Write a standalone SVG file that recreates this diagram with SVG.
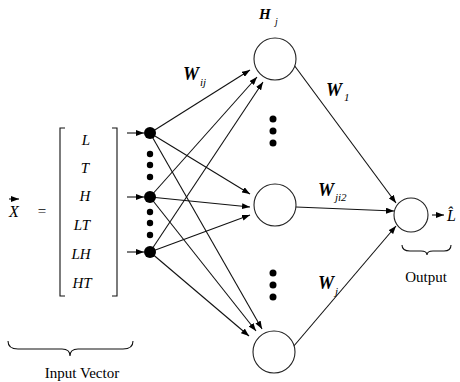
<svg xmlns="http://www.w3.org/2000/svg" width="460" height="382" viewBox="0 0 460 382">
<style>
.ln{stroke:#111;stroke-width:1.1;fill:none}
.cir{stroke:#222;stroke-width:1.1;fill:#fff}
.dot{fill:#000}
.it{font-family:"Liberation Serif","Times New Roman",serif;font-style:italic;fill:#000}
.bi{font-family:"Liberation Serif","Times New Roman",serif;font-style:italic;font-weight:bold;fill:#000}
.rm{font-family:"Liberation Serif","Times New Roman",serif;fill:#000}
</style>
<defs>
<marker id="ah" markerUnits="userSpaceOnUse" markerWidth="8" markerHeight="6" refX="8" refY="3" orient="auto">
<path d="M0,0 L8,3 L0,6 Z" fill="#000"/>
</marker>
</defs>
<g id="input-vector">
<text class="it" x="14" y="217" font-size="16" text-anchor="middle">X</text>
<path class="ln" d="M9,199 H19" marker-end="url(#ah)"/>
<text class="rm" x="42" y="216" font-size="15" text-anchor="middle">=</text>
<path class="ln" d="M65,128 H60 V296 H65"/>
<path class="ln" d="M112,128 H117 V296 H112"/>
<text class="it" x="86" y="145" font-size="15" text-anchor="middle">L</text>
<text class="it" x="85" y="173" font-size="15" text-anchor="middle">T</text>
<text class="it" x="85" y="201" font-size="15" text-anchor="middle">H</text>
<text class="it" x="82" y="230" font-size="15" text-anchor="middle">LT</text>
<text class="it" x="81" y="259" font-size="15" text-anchor="middle">LH</text>
<text class="it" x="82" y="288" font-size="15" text-anchor="middle">HT</text>
<path class="ln" d="M8,341 Q8,349 18,349 H62 Q70,349 70,356 Q70,349 78,349 H123 Q133,349 133,341"/>
<text class="rm" x="82" y="378" font-size="15" text-anchor="middle">Input Vector</text>
</g>
<g id="connectors">
<path class="ln" d="M127,133 H144" marker-end="url(#ah)"/>
<path class="ln" d="M127,197 H144" marker-end="url(#ah)"/>
<path class="ln" d="M127,252 H144" marker-end="url(#ah)"/>
<path class="ln" d="M150,133 L250,70" marker-end="url(#ah)"/>
<path class="ln" d="M150,133 L250,194" marker-end="url(#ah)"/>
<path class="ln" d="M150,133 L262,329" marker-end="url(#ah)"/>
<path class="ln" d="M150,197 L257,77" marker-end="url(#ah)"/>
<path class="ln" d="M150,197 L250,207" marker-end="url(#ah)"/>
<path class="ln" d="M150,197 L256,331" marker-end="url(#ah)"/>
<path class="ln" d="M150,252 L263,82" marker-end="url(#ah)"/>
<path class="ln" d="M150,252 L250,215" marker-end="url(#ah)"/>
<path class="ln" d="M150,252 L249,336" marker-end="url(#ah)"/>
<path class="ln" d="M294,65 L396,203" marker-end="url(#ah)"/>
<path class="ln" d="M296,207 L394,211" stroke-width="1.5" marker-end="url(#ah)"/>
<path class="ln" d="M293,347 L396,226" marker-end="url(#ah)"/>
<path class="ln" d="M432,215 H444" marker-end="url(#ah)"/>
</g>
<g id="input-nodes">
<circle class="dot" cx="150" cy="133" r="6"/>
<circle class="dot" cx="150" cy="197" r="6"/>
<circle class="dot" cx="150" cy="252" r="6"/>
<circle class="dot" cx="150" cy="154" r="3.2"/>
<circle class="dot" cx="150" cy="165" r="3.2"/>
<circle class="dot" cx="150" cy="177" r="3.2"/>
<circle class="dot" cx="150" cy="212" r="3.2"/>
<circle class="dot" cx="150" cy="223" r="3.2"/>
<circle class="dot" cx="150" cy="235" r="3.2"/>
</g>
<g id="hidden-1">
<circle class="cir" cx="275" cy="59" r="21"/>
<text class="bi" x="259" y="19" font-size="15">H</text>
<text class="it" x="275" y="25" font-size="10">j</text>
</g>
<g id="hidden-dots">
<circle class="dot" cx="273" cy="119" r="3.5"/>
<circle class="dot" cx="273" cy="131" r="3.5"/>
<circle class="dot" cx="273" cy="143" r="3.5"/>
<circle class="dot" cx="273" cy="273" r="3.5"/>
<circle class="dot" cx="273" cy="285" r="3.5"/>
<circle class="dot" cx="273" cy="297" r="3.5"/>
</g>
<g id="hidden-2">
<circle class="cir" cx="275" cy="205" r="21"/>
</g>
<g id="hidden-3">
<circle class="cir" cx="274" cy="352" r="21"/>
</g>
<g id="output">
<circle class="cir" cx="411" cy="215" r="17"/>
<text class="it" x="447" y="221" font-size="16">L̂</text>
<path class="ln" d="M402,245 Q402,251 410,251 H421 Q427,251 427,255 Q427,251 433,251 H444 Q451,251 451,245"/>
<text class="rm" x="426" y="282" font-size="15" text-anchor="middle">Output</text>
</g>
<g id="weight-labels">
<text class="bi" x="183" y="80" font-size="18">W</text>
<text class="it" x="200" y="86" font-size="11">ij</text>
<text class="bi" x="326" y="96" font-size="18">W</text>
<text class="it" x="344" y="101" font-size="11">1</text>
<text class="bi" x="318" y="196" font-size="18">W</text>
<text class="it" x="335" y="201" font-size="11">ji2</text>
<text class="bi" x="318" y="289" font-size="18">W</text>
<text class="it" x="335" y="295" font-size="11">j</text>
</g>
</svg>
